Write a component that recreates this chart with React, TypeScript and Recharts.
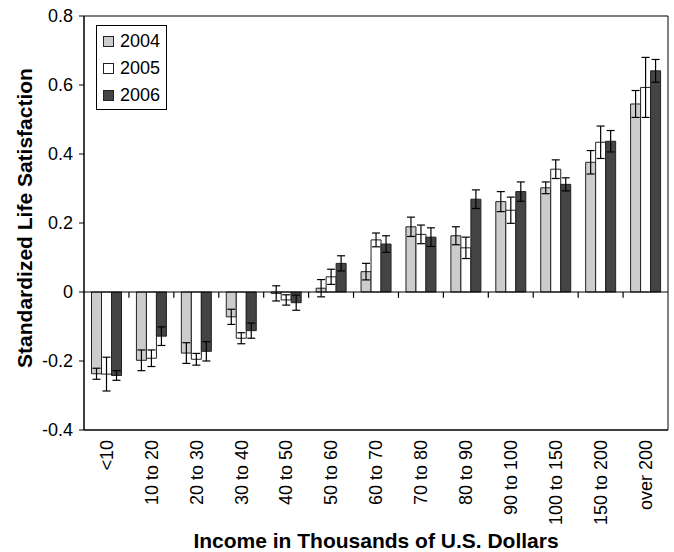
import {
  ComposedChart,
  Bar,
  ErrorBar,
  XAxis,
  YAxis,
  ReferenceLine,
  ReferenceArea,
  Legend,
} from 'recharts'

const FONT = 'Arial, "Liberation Sans", Helvetica, sans-serif'

const categories = [
  '<10', '10 to 20', '20 to 30', '30 to 40', '40 to 50', '50 to 60', '60 to 70',
  '70 to 80', '80 to 90', '90 to 100', '100 to 150', '150 to 200', 'over 200',
]

const sat2004 = [-0.237, -0.198, -0.177, -0.072, -0.004, 0.011, 0.059, 0.189, 0.163, 0.262, 0.302, 0.376, 0.545]
const sat2005 = [-0.238, -0.192, -0.195, -0.134, -0.023, 0.044, 0.151, 0.167, 0.128, 0.237, 0.356, 0.434, 0.593]
const sat2006 = [-0.242, -0.128, -0.172, -0.112, -0.031, 0.083, 0.139, 0.159, 0.269, 0.291, 0.312, 0.437, 0.641]

const err2004 = [0.016, 0.03, 0.03, 0.022, 0.022, 0.025, 0.024, 0.028, 0.026, 0.029, 0.017, 0.034, 0.039]
const err2005 = [0.049, 0.024, 0.017, 0.016, 0.015, 0.022, 0.02, 0.027, 0.031, 0.038, 0.027, 0.047, 0.087]
const err2006 = [0.014, 0.027, 0.028, 0.022, 0.022, 0.022, 0.024, 0.027, 0.027, 0.028, 0.019, 0.031, 0.033]

const yTicks = [-0.4, -0.2, 0, 0.2, 0.4, 0.6, 0.8]

const series = [
  { key: 'y2004', err: 'e2004', name: '2004', fill: '#cccccc' },
  { key: 'y2005', err: 'e2005', name: '2005', fill: '#ffffff' },
  { key: 'y2006', err: 'e2006', name: '2006', fill: '#444444' },
]

const rows = categories.map((cat, i) => ({
  cat,
  y2004: sat2004[i],
  y2005: sat2005[i],
  y2006: sat2006[i],
  e2004: err2004[i],
  e2005: err2005[i],
  e2006: err2006[i],
}))

// little ticks on the zero line, at the left edge of each category band
const boundaries = categories.slice(1)

function IncomeTick(props: any) {
  const { x, y, payload } = props
  return (
    <g transform={`translate(${x},${y})`}>
      <text transform="rotate(-90)" textAnchor="end" dy="0.35em" fontSize={18} fontFamily={FONT} fill="#000">
        {payload.value}
      </text>
    </g>
  )
}

function XTitle(props: any) {
  const vb = props.viewBox
  return (
    <text x={vb.x + vb.width / 2} y={vb.y + 118} textAnchor="middle" fontSize={21} fontWeight="bold" fontFamily={FONT} fill="#000">
      Income in Thousands of U.S. Dollars
    </text>
  )
}

function YTitle(props: any) {
  const vb = props.viewBox
  const cx = vb.x + 8
  const cy = vb.y + vb.height / 2 - 5
  return (
    <text x={cx} y={cy} transform={`rotate(-90, ${cx}, ${cy})`} textAnchor="middle" fontSize={21} fontWeight="bold" fontFamily={FONT} fill="#000">
      Standardized Life Satisfaction
    </text>
  )
}

function LegendBox() {
  return (
    <div style={{ border: '1px solid #000', background: '#fff', padding: '2px 6px 0 6px', fontFamily: FONT, fontSize: 18, lineHeight: '27px' }}>
      {series.map((s) => (
        <div key={s.key} style={{ display: 'flex', alignItems: 'center', height: 27 }}>
          <span style={{ display: 'inline-block', width: 11, height: 11, boxSizing: 'border-box', border: '1px solid #222', background: s.fill, marginRight: 6 }} />
          <span>{s.name}</span>
        </div>
      ))}
    </div>
  )
}

export default function App() {
  return (
    <div style={{ position: 'absolute', left: 0, top: 0, background: '#fff' }}>
      <ComposedChart
        width={674}
        height={552}
        data={rows}
        margin={{ top: 16, right: 6, bottom: 0, left: 24 }}
        barCategoryGap="16.7%"
        barGap={0}
      >
        <XAxis
          dataKey="cat"
          height={122}
          interval={0}
          tickLine={false}
          tickSize={0}
          tickMargin={10}
          axisLine={{ stroke: '#000' }}
          tick={<IncomeTick />}
          label={XTitle}
        />
        <YAxis
          domain={[-0.4, 0.8]}
          ticks={yTicks}
          width={60}
          tickSize={5}
          tickMargin={6}
          axisLine={{ stroke: '#000' }}
          tickLine={{ stroke: '#000' }}
          tick={{ fontSize: 18, fontFamily: FONT, fill: '#000' }}
          tickFormatter={(v: number) => String(v)}
          label={YTitle}
        />
        <ReferenceArea y1={-0.4} y2={0.8} fill="none" fillOpacity={0} stroke="#000" strokeOpacity={1} strokeWidth={1} />
        <ReferenceLine y={0} stroke="#000" />
        {boundaries.map((c) => (
          <ReferenceLine key={c} position="start" segment={[{ x: c, y: 0 }, { x: c, y: -0.017 }]} stroke="#000" strokeWidth={1.2} />
        ))}
        {series.map((s) => (
          <Bar key={s.key} dataKey={s.key} name={s.name} fill={s.fill} stroke="#222" strokeWidth={1} isAnimationActive={false}>
            <ErrorBar dataKey={s.err} width={4} stroke="#000" strokeWidth={1.2} direction="y" isAnimationActive={false} />
          </Bar>
        ))}
        <Legend
          layout="vertical"
          align="center"
          verticalAlign="middle"
          wrapperStyle={{ left: 96, top: 25, width: 'auto' }}
          content={<LegendBox />}
        />
      </ComposedChart>
    </div>
  )
}
